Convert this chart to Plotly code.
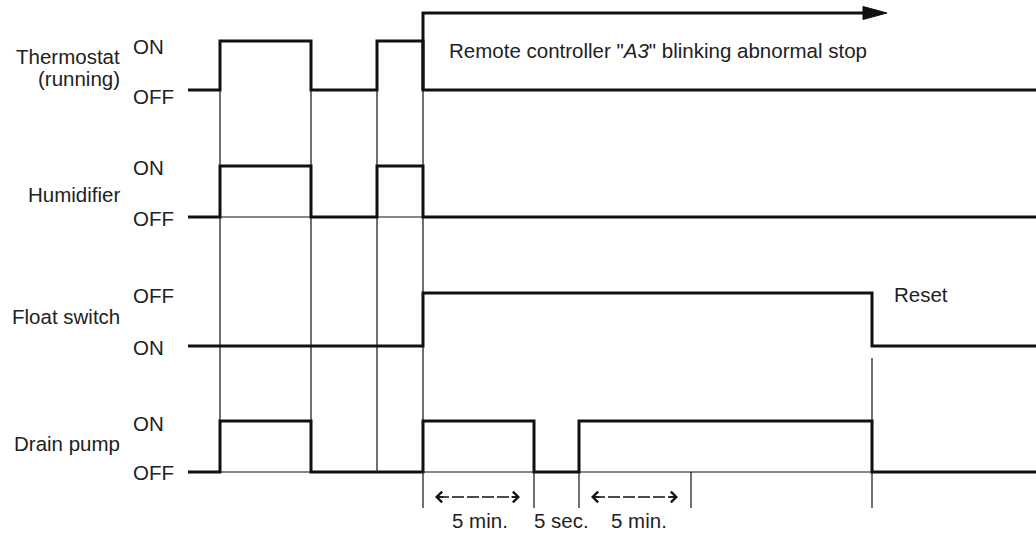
import plotly.graph_objects as go

# ---------------- data ----------------
signal_names = ["Thermostat", "Humidifier", "Float switch", "Drain pump"]
high_labels = ["ON", "ON", "OFF", "ON"]
low_labels = ["OFF", "OFF", "ON", "OFF"]

thermo_times = [188, 220, 311, 377, 423, 1036]
thermo_states = [0, 1, 0, 1, 0, 0]
humid_times = [188, 220, 311, 377, 423, 1036]
humid_states = [0, 1, 0, 1, 0, 0]
float_times = [188, 423, 872, 1036]
float_states = [0, 1, 0, 0]
drain_times = [188, 220, 311, 423, 534, 579, 872, 1036]
drain_states = [0, 1, 0, 1, 0, 1, 0, 0]

stop_time = 423
stop_arrow_end = 887
reset_time = 872

guide_times = [220, 311, 377, 423, 534, 579, 691, 872]
dim_spans = [(435, 520), (591, 678)]
dim_labels = ["5 min.", "5 sec.", "5 min."]
dim_label_times = [480, 561, 639]

# ---------------- layout constants ----------------
W, H = 1036, 533
row_low = [90, 217, 346, 472]
row_high = [41, 166, 293, 421]
stop_level = 13
baseline_rows = [1, 3]          # rows with thin baseline under pulses
guide_spans = {220: (41, 472), 311: (41, 472), 377: (41, 472), 423: (13, 508),
               534: (472, 508), 579: (472, 508), 691: (472, 508), 872: (358, 508)}
dim_y = 497
dim_label_y = 520
FONT = "Liberation Sans, Arial, Helvetica, sans-serif"
TXT = "#222222"
LINE = "#111111"
FS = 20.5

fig = go.Figure()

# thin guide lines
gx, gy = [], []
for t in guide_times:
    y0, y1 = guide_spans[t]
    gx += [t, t, None]
    gy += [y0, y1, None]
# thin baselines
for r in baseline_rows:
    gx += [drain_times[0], drain_times[-1], None]
    gy += [row_low[r], row_low[r], None]
fig.add_trace(go.Scatter(x=gx, y=gy, mode="lines",
                         line=dict(color=LINE, width=1.2), hoverinfo="skip"))

# thick step signals
signals = [(thermo_times, thermo_states), (humid_times, humid_states),
           (float_times, float_states), (drain_times, drain_states)]
for i, (ts, ss) in enumerate(signals):
    ys = [row_high[i] if s else row_low[i] for s in ss]
    fig.add_trace(go.Scatter(x=ts, y=ys, mode="lines", line_shape="hv",
                             line=dict(color=LINE, width=3), hoverinfo="skip"))

# abnormal stop arrow
head_len, head_half = 24, 6.5
fig.add_trace(go.Scatter(x=[stop_time, stop_time, stop_arrow_end - head_len + 2],
                         y=[row_low[0], stop_level, stop_level], mode="lines",
                         line=dict(color=LINE, width=3), hoverinfo="skip"))
fig.add_trace(go.Scatter(x=[stop_arrow_end - head_len, stop_arrow_end, stop_arrow_end - head_len, stop_arrow_end - head_len],
                         y=[stop_level - head_half, stop_level, stop_level + head_half, stop_level - head_half],
                         mode="lines", fill="toself", fillcolor=LINE,
                         line=dict(color=LINE, width=1), hoverinfo="skip"))

# dimension arrows
for a, b in dim_spans:
    fig.add_trace(go.Scatter(x=[a + 2, b - 2], y=[dim_y, dim_y], mode="lines",
                             line=dict(color=LINE, width=1.4, dash="12px,3px"),
                             hoverinfo="skip"))
    for tip, tail in ((a, a + 10), (b, b - 10)):
        fig.add_annotation(x=tip, y=dim_y, ax=tail, ay=dim_y, axref="x", ayref="y",
                           xref="x", yref="y", showarrow=True, arrowhead=4,
                           arrowsize=1.5, arrowwidth=1.4, arrowcolor=LINE, text="")

for lab, t in zip(dim_labels, dim_label_times):
    fig.add_annotation(x=t, y=dim_label_y, text=lab, showarrow=False,
                       xanchor="center", yanchor="middle",
                       font=dict(family=FONT, size=FS, color=TXT))

# row labels
name_y = [None, 194, 316, 443]
for i, name in enumerate(signal_names):
    if i == 0:
        fig.add_annotation(x=122, y=56, text="Thermostat", showarrow=False,
                           xanchor="right", yanchor="middle",
                           font=dict(family=FONT, size=FS, color=TXT))
        fig.add_annotation(x=122, y=78, text="(running)", showarrow=False,
                           xanchor="right", yanchor="middle",
                           font=dict(family=FONT, size=FS, color=TXT))
    else:
        fig.add_annotation(x=122, y=name_y[i], text=name, showarrow=False,
                           xanchor="right", yanchor="middle",
                           font=dict(family=FONT, size=FS, color=TXT))

hi_label_y = [46, 167, 295, 423]
lo_label_y = [96, 218, 347, 472]
for i in range(4):
    fig.add_annotation(x=131, y=hi_label_y[i], text=high_labels[i], showarrow=False,
                       xanchor="left", yanchor="middle",
                       font=dict(family=FONT, size=FS, color=TXT))
    fig.add_annotation(x=131, y=lo_label_y[i], text=low_labels[i], showarrow=False,
                       xanchor="left", yanchor="middle",
                       font=dict(family=FONT, size=FS, color=TXT))

fig.add_annotation(x=447, y=50, text='Remote controller "<i>A3</i>" blinking abnormal stop',
                   showarrow=False, xanchor="left", yanchor="middle",
                   font=dict(family=FONT, size=FS, color=TXT))
fig.add_annotation(x=892, y=294, text="Reset", showarrow=False,
                   xanchor="left", yanchor="middle",
                   font=dict(family=FONT, size=FS, color=TXT))

fig.update_layout(width=W, height=H, margin=dict(l=0, r=0, t=0, b=0),
                  paper_bgcolor="white", plot_bgcolor="white", showlegend=False,
                  xaxis=dict(range=[0, W], visible=False, fixedrange=True),
                  yaxis=dict(range=[H, 0], visible=False, fixedrange=True))

fig.write_html("out.html", config={"displayModeBar": False},
               post_script="document.body.style.margin='0';document.body.style.padding='0';document.body.style.overflow='hidden';")
